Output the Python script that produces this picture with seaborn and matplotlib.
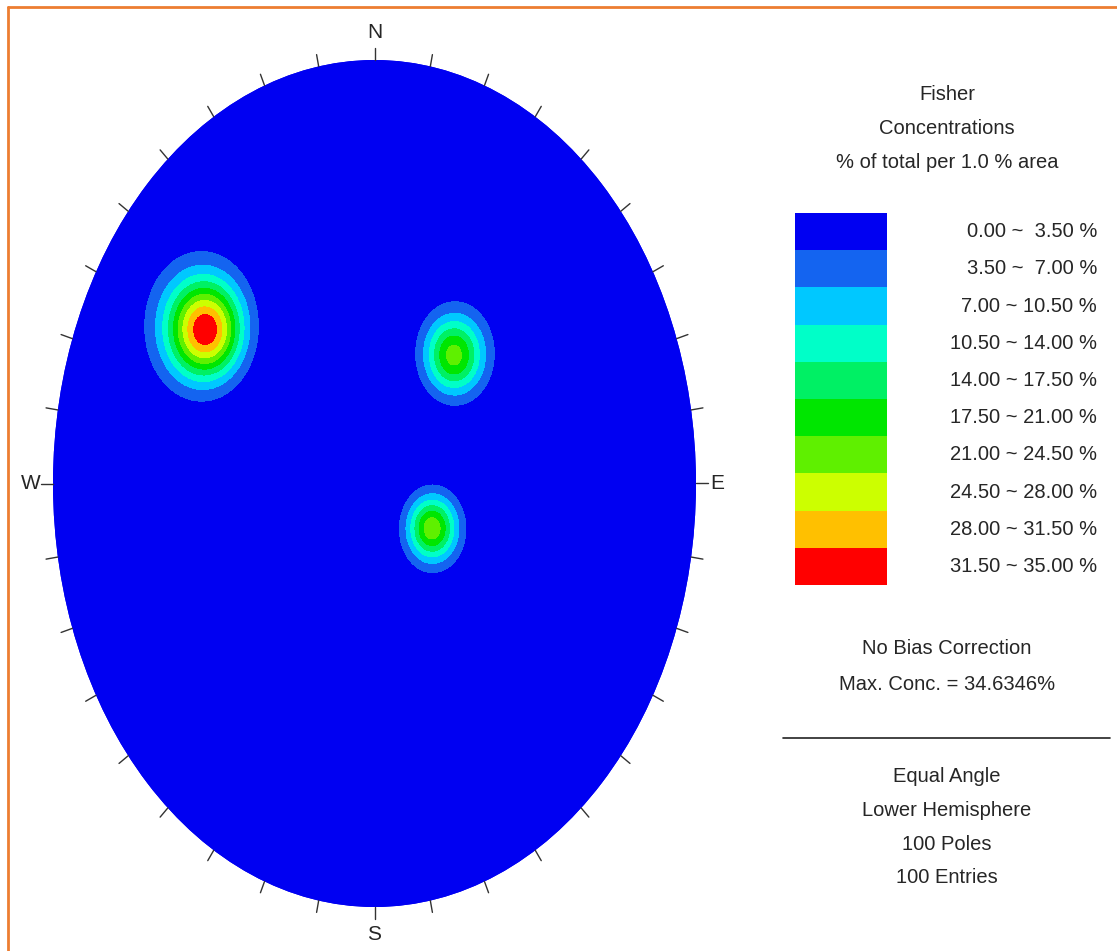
import numpy as np
import matplotlib
matplotlib.use("Agg")
import matplotlib.pyplot as plt
import seaborn as sns
from matplotlib import font_manager
from matplotlib.colors import ListedColormap
from matplotlib.patches import Circle
from matplotlib.lines import Line2D

# ---- data -------------------------------------------------------------
# Pole clusters (trend / plunge in degrees), peak concentration (% of total
# per 1 % area) and Fisher concentration parameter of each cluster
cluster_trend = [304.6, 39.2, 120.6]
cluster_plunge = [24.8, 47.3, 66.5]
cluster_peak = [34.6346, 22.5, 23.5]
cluster_kappa = [75.0, 84.0, 98.0]

# Contour bands
contour_levels = [0.0, 3.5, 7.0, 10.5, 14.0, 17.5, 21.0, 24.5, 28.0, 31.5, 35.0]
band_colors = ["#0000f2", "#1464f0", "#00c8ff", "#00ffc8", "#00f064",
               "#00e600", "#5ff000", "#ccff00", "#ffc000", "#ff0000"]

compass_labels = ["N", "E", "S", "W"]
compass_azimuths = [0, 90, 180, 270]

title_lines = ["Fisher", "Concentrations", "% of total per 1.0 % area"]
n_poles = 100
n_entries = 100
max_conc = cluster_peak[0]

# ---- figure -----------------------------------------------------------
sns.set_theme(style="white")
installed = {f.name for f in font_manager.fontManager.ttflist}
if "Liberation Sans Narrow" in installed:
    plt.rcParams["font.family"] = ["Liberation Sans Narrow", "DejaVu Sans"]
    FS, FS_COMPASS = 16.5, 17
else:
    plt.rcParams["font.family"] = ["Liberation Sans", "DejaVu Sans"]
    FS, FS_COMPASS = 14.5, 15
TEXT = "#262626"

W, H = 1117, 951
fig = plt.figure(figsize=(W / 100, H / 100), dpi=100)
fig.patch.set_facecolor("white")


def fx(px):
    return px / W


def fy(py):
    return 1 - py / H


# ---- stereonet (equal angle, lower hemisphere) -------------------------
L, T, R, B = 53, 60, 696, 907
ax = fig.add_axes([fx(L), fy(B), (R - L) / W, (B - T) / H])
ax.set_xlim(-1, 1)
ax.set_ylim(-1, 1)
ax.axis("off")
half_w, half_h = (R - L) / 2, (B - T) / 2

g = np.linspace(-1.0, 1.0, 401)
X, Y = np.meshgrid(g, g)
Rr = np.hypot(X, Y)
phi = 2 * np.arctan(Rr)              # angle from vertical (down)
trd = np.arctan2(X, Y)
ve = np.sin(phi) * np.sin(trd)
vn = np.sin(phi) * np.cos(trd)
vd = np.cos(phi)

Z = np.zeros_like(X)
for t, p, pk, k in zip(cluster_trend, cluster_plunge, cluster_peak, cluster_kappa):
    t, p = np.radians(t), np.radians(p)
    ce, cn, cd = np.cos(p) * np.sin(t), np.cos(p) * np.cos(t), np.sin(p)
    cosang = ve * ce + vn * cn + vd * cd
    Z += pk * np.exp(k * (cosang - 1.0))
Z = np.clip(Z, 0, max_conc)

disk = Circle((0, 0), 1.0, facecolor=band_colors[0], edgecolor="none", zorder=1)
ax.add_patch(disk)
cs = ax.contourf(X, Y, Z, levels=contour_levels, colors=band_colors, zorder=2)
cs.set_clip_path(disk)

# perimeter ticks every 10 degrees
tick_px = 12
for az in range(0, 360, 10):
    s, c = np.sin(np.radians(az)), np.cos(np.radians(az))
    ax.plot([s, s + s * tick_px / half_w], [c, c + c * tick_px / half_h],
            color="#333333", lw=1.0, clip_on=False, zorder=3)

label_px = {"N": 27, "S": 28, "W": 22.5, "E": 21}
for lab, az in zip(compass_labels, compass_azimuths):
    s, c = np.sin(np.radians(az)), np.cos(np.radians(az))
    off = label_px[lab]
    ax.text(s * (1 + off / half_w), c * (1 + off / half_h), lab,
            ha="center", va="center", fontsize=FS_COMPASS, color=TEXT,
            clip_on=False)

# ---- legend ------------------------------------------------------------
for i, line in enumerate(title_lines):
    fig.text(fx(947), fy(95 + 33.5 * i), line, ha="center", va="center",
             fontsize=FS, color=TEXT)

sw_top, sw_bot = 213, 585
lax = fig.add_axes([fx(795), fy(sw_bot), 92 / W, (sw_bot - sw_top) / H])
sns.heatmap(np.arange(len(band_colors)).reshape(-1, 1),
            cmap=ListedColormap(band_colors), vmin=-0.5, vmax=len(band_colors) - 0.5,
            cbar=False, xticklabels=False, yticklabels=False, ax=lax)
lax.axis("off")

row_h = (sw_bot - sw_top) / len(band_colors)
for i in range(len(band_colors)):
    lo, hi = contour_levels[i], contour_levels[i + 1]
    fig.text(fx(1097), fy(sw_top + row_h * (i + 0.5)),
             f"{lo:.2f} ~ {hi:5.2f} %", ha="right", va="center",
             fontsize=FS, color=TEXT)

fig.text(fx(947), fy(648), "No Bias Correction", ha="center", va="center",
         fontsize=FS, color=TEXT)
fig.text(fx(947), fy(685), f"Max. Conc. = {max_conc:.4f}%", ha="center",
         va="center", fontsize=FS, color=TEXT)

fig.add_artist(Line2D([fx(783), fx(1110)], [fy(738), fy(738)],
                      color="#222222", lw=1.2))

info = ["Equal Angle", "Lower Hemisphere", f"{n_poles} Poles", f"{n_entries} Entries"]
for i, line in enumerate(info):
    fig.text(fx(947), fy(777 + 33.5 * i), line, ha="center", va="center",
             fontsize=FS, color=TEXT)

# ---- frame ---------------------------------------------------------------
orange = "#ed7d31"
fig.add_artist(Line2D([fx(8), fx(W)], [fy(7), fy(7)], color=orange, lw=2))
fig.add_artist(Line2D([fx(8), fx(8)], [fy(7), fy(H)], color=orange, lw=2))

fig.savefig("out.png", dpi=100, facecolor="white")
